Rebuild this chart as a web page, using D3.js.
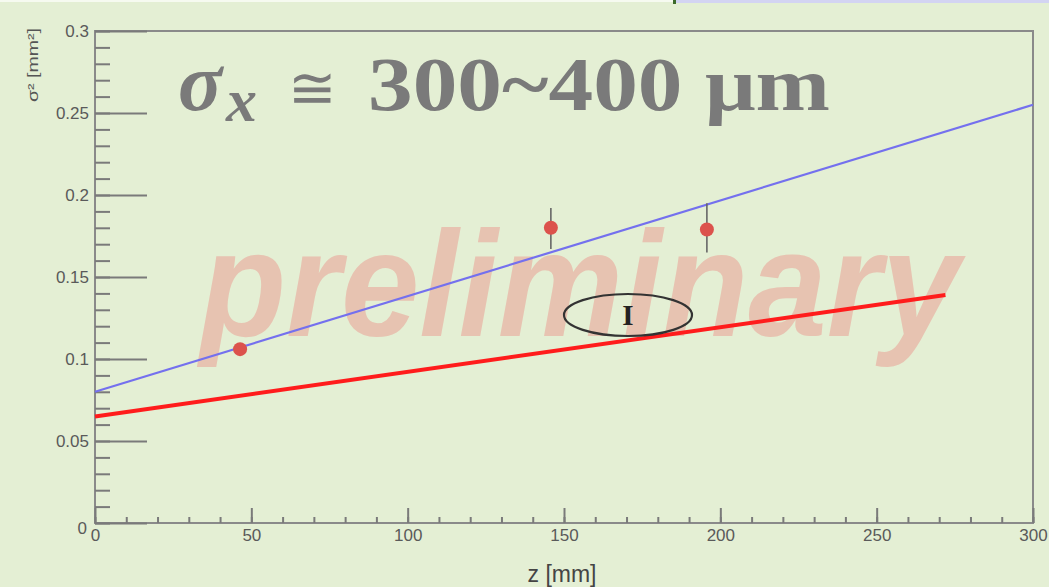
<!DOCTYPE html>
<html>
<head>
<meta charset="utf-8">
<script src="https://cdn.jsdelivr.net/npm/d3@7"></script>
<style>
  html, body { margin: 0; padding: 0; background: #e4efd4; }
  svg { display: block; }
</style>
</head>
<body>
<svg id="chart" width="1049" height="587"></svg>
<script>
// Measured beam size squared vs. position along z
const zPoints    = [46.4, 145.8, 195.7];
const sigma2     = [0.106, 0.180, 0.179];
const errLow     = [0.103, 0.167, 0.165];
const errHigh    = [0.109, 0.192, 0.195];

// Fitted lines: [z, sigma^2] at both ends
const fitBlueZ   = [0, 300];
const fitBlueV   = [0.080, 0.255];
const fitRedZ    = [0, 272];
const fitRedV    = [0.065, 0.139];

// Axis ticks
const yMajor     = [0, 0.05, 0.1, 0.15, 0.2, 0.25, 0.3];
const yMajorText = ["0", "0.05", "0.1", "0.15", "0.2", "0.25", "0.3"];
const yMinor     = d3.range(0, 0.3001, 0.01);
const xMajor     = [0, 50, 100, 150, 200, 250, 300];
const xMajorText = ["0", "50", "100", "150", "200", "250", "300"];
const xMinor     = d3.range(0, 300.1, 10);

const svg = d3.select("#chart");
const W = 1049, H = 587;
const m = { left: 95, right: 1033, top: 31, bottom: 523 };

// page background and the thin strip along the top edge
svg.append("rect").attr("width", W).attr("height", H).attr("fill", "#e4efd4");
svg.append("rect").attr("x", 0).attr("y", 0).attr("width", 673).attr("height", 2).attr("fill", "#f6faf0");
svg.append("rect").attr("x", 676).attr("y", 0).attr("width", W - 676).attr("height", 3).attr("fill", "#d3d4f2");
svg.append("rect").attr("x", 673).attr("y", 0).attr("width", 3).attr("height", 4).attr("fill", "#3c6a2a");

const x = d3.scaleLinear().domain([0, 300]).range([m.left, m.right]);
const y = d3.scaleLinear().domain([0, 0.3]).range([m.bottom, m.top]);

// watermark
svg.append("text")
  .attr("x", 200).attr("y", 336)
  .attr("font-family", "Liberation Sans, Arial, sans-serif")
  .attr("font-weight", "bold").attr("font-style", "italic")
  .attr("font-size", 150)
  .attr("textLength", 760).attr("lengthAdjust", "spacingAndGlyphs")
  .attr("fill", "#e7c3b1")
  .text("preliminary");

// frame
svg.append("rect")
  .attr("x", m.left).attr("y", m.top)
  .attr("width", m.right - m.left).attr("height", m.bottom - m.top)
  .attr("fill", "none").attr("stroke", "#8a8a8a").attr("stroke-width", 2);

const tickColor = "#7a7a7a";
function styleAxis(g) {
  g.select(".domain").remove();
  g.selectAll(".tick line").attr("stroke", tickColor).attr("stroke-width", 2);
  g.selectAll(".tick text")
    .attr("fill", "#5a5a5a")
    .attr("font-family", "Liberation Sans, Arial, sans-serif")
    .attr("font-size", 17);
}

// minor y ticks
svg.append("g").attr("transform", `translate(${m.left},0)`)
  .call(d3.axisLeft(y).tickValues(yMinor).tickSize(-15).tickSizeOuter(0).tickFormat(""))
  .call(styleAxis);
// major y ticks with labels
svg.append("g").attr("transform", `translate(${m.left},0)`)
  .call(d3.axisLeft(y).tickValues(yMajor).tickSize(-52).tickSizeOuter(0).tickPadding(6)
        .tickFormat((d, i) => yMajorText[i]))
  .call(styleAxis)
  .call(g => g.selectAll(".tick text").filter(d => d === 0).attr("dy", "0.6em").attr("x", -8));

// minor x ticks
svg.append("g").attr("transform", `translate(0,${m.bottom})`)
  .call(d3.axisBottom(x).tickValues(xMinor).tickSize(-6).tickSizeOuter(0).tickFormat(""))
  .call(styleAxis);
// major x ticks with labels
svg.append("g").attr("transform", `translate(0,${m.bottom})`)
  .call(d3.axisBottom(x).tickValues(xMajor).tickSize(-15).tickSizeOuter(0).tickPadding(6)
        .tickFormat((d, i) => xMajorText[i]))
  .call(styleAxis);

// axis titles
svg.append("text")
  .attr("transform", "translate(38,28) rotate(-90)")
  .attr("text-anchor", "end")
  .attr("font-family", "Liberation Sans, Arial, sans-serif")
  .attr("font-size", 15).attr("fill", "#555")
  .attr("textLength", 74).attr("lengthAdjust", "spacingAndGlyphs")
  .text("σ² [mm²]");
svg.append("text")
  .attr("x", 562).attr("y", 582)
  .attr("text-anchor", "middle")
  .attr("font-family", "Liberation Sans, Arial, sans-serif")
  .attr("font-size", 23).attr("fill", "#444")
  .text("z [mm]");

// fit lines
const line = d3.line().x(d => x(d[0])).y(d => y(d[1]));
svg.append("path")
  .datum(fitBlueZ.map((z, i) => [z, fitBlueV[i]]))
  .attr("d", line).attr("fill", "none")
  .attr("stroke", "#7470ee").attr("stroke-width", 2.2);
svg.append("path")
  .datum(fitRedZ.map((z, i) => [z, fitRedV[i]]))
  .attr("d", line).attr("fill", "none")
  .attr("stroke", "#ff1c1c").attr("stroke-width", 4);

// data points with error bars
const pts = zPoints.map((z, i) => ({ z, v: sigma2[i], lo: errLow[i], hi: errHigh[i] }));
svg.append("g").selectAll("line").data(pts).join("line")
  .attr("x1", d => x(d.z)).attr("x2", d => x(d.z))
  .attr("y1", d => y(d.lo)).attr("y2", d => y(d.hi))
  .attr("stroke", "#666").attr("stroke-width", 1.6);
svg.append("g").selectAll("circle").data(pts).join("circle")
  .attr("cx", d => x(d.z)).attr("cy", d => y(d.v)).attr("r", 7)
  .attr("fill", "#dc524c");

// circled "I" marker
svg.append("ellipse")
  .attr("cx", 628).attr("cy", 315).attr("rx", 64).attr("ry", 21)
  .attr("fill", "none").attr("stroke", "#333").attr("stroke-width", 2.2);
svg.append("text")
  .attr("x", 628).attr("y", 325)
  .attr("text-anchor", "middle")
  .attr("font-family", "Liberation Serif, Times New Roman, serif")
  .attr("font-weight", "bold")
  .attr("font-size", 29).attr("fill", "#222")
  .text("I");

// headline formula
const head = svg.append("g")
  .attr("font-family", "Liberation Serif, Times New Roman, serif")
  .attr("font-weight", "bold").attr("fill", "#7a7a7a");
head.append("text").attr("x", 178).attr("y", 110)
  .attr("font-style", "italic").attr("font-size", 82).text("σ");
head.append("text").attr("x", 226).attr("y", 121)
  .attr("font-style", "italic").attr("font-size", 62).text("x");
head.append("text").attr("x", 288).attr("y", 108)
  .attr("font-family", "DejaVu Serif, serif").attr("font-weight", "normal")
  .attr("font-size", 58).text("≅");
head.append("text").attr("x", 368).attr("y", 110)
  .attr("font-size", 77)
  .attr("textLength", 462).attr("lengthAdjust", "spacingAndGlyphs")
  .text("300~400 μm");
</script>
</body>
</html>
